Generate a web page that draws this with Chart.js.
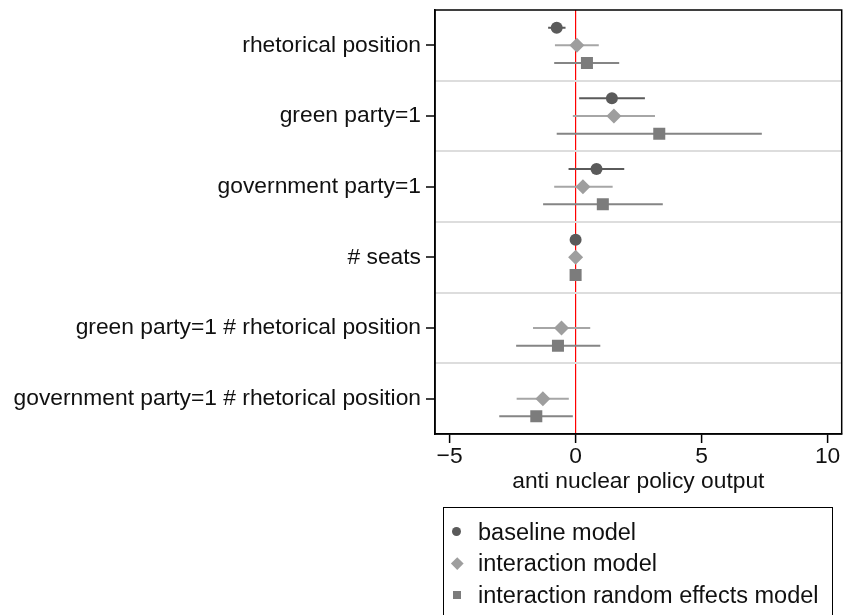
<!DOCTYPE html>
<html>
<head>
<meta charset="utf-8">
<script src="https://cdn.jsdelivr.net/npm/chart.js@4.4.1/dist/chart.umd.min.js"></script>
<style>
  body { margin: 0; background: #fff; font-family: "Liberation Sans", Arial, Helvetica, sans-serif; }
  #wrap { position: relative; width: 843px; height: 615px; overflow: hidden; }
  #legend { position: absolute; left: 443px; top: 507px; width: 390px; height: 120px;
            border: 1px solid #000; box-sizing: border-box; }
  .item { position: absolute; left: 0; height: 32px; line-height: 32px; font-size: 23.5px;
          color: #111; white-space: nowrap; }
  .item span.txt { position: absolute; left: 34px; top: 0; }
  .mk { position: absolute; }
</style>
</head>
<body>
<div id="wrap">
  <canvas id="chart" width="843" height="615"></canvas>
  <div id="legend"></div>
</div>
<script>
// categories (top to bottom)
const categories = [
  'rhetorical position',
  'green party=1',
  'government party=1',
  '# seats',
  'green party=1 # rhetorical position',
  'government party=1 # rhetorical position'
];

// baseline model
const baselineEst = [-0.75, 1.44, 0.83, 0.0, null, null];
const baselineLo  = [-1.09, 0.14, -0.28, -0.02, null, null];
const baselineHi  = [-0.40, 2.75, 1.93, 0.02, null, null];

// interaction model
const interactionEst = [0.05, 1.52, 0.29, 0.0, -0.56, -1.30];
const interactionLo  = [-0.82, -0.11, -0.85, -0.02, -1.69, -2.34];
const interactionHi  = [0.92, 3.15, 1.47, 0.02, 0.58, -0.27];

// interaction random effects model
const randomEst = [0.45, 3.32, 1.08, 0.0, -0.70, -1.56];
const randomLo  = [-0.85, -0.75, -1.29, -0.02, -2.36, -3.03];
const randomHi  = [1.73, 7.39, 3.46, 0.02, 0.98, -0.11];

const xTicks = [-5, 0, 5, 10];
const xTitle = 'anti nuclear policy output';

const series = [
  { label: 'baseline model', est: baselineEst, lo: baselineLo, hi: baselineHi,
    shift: -0.25, style: 'circle', radius: 6, color: '#5a5a5a', ciColor: '#5a5a5a' },
  { label: 'interaction model', est: interactionEst, lo: interactionLo, hi: interactionHi,
    shift: 0, style: 'rectRot', radius: 7.5, color: '#9e9e9e', ciColor: '#a6a6a6' },
  { label: 'interaction random effects model', est: randomEst, lo: randomLo, hi: randomHi,
    shift: 0.25, style: 'rect', radius: 8.5, color: '#7c7c7c', ciColor: '#858585' }
];

const datasets = [];
series.forEach(s => {
  const pts = [];
  s.est.forEach((v, i) => {
    if (v === null) return;
    pts.push({ x: v, y: i + s.shift });
  });
  datasets.push({
    label: s.label,
    data: pts,
    pointStyle: s.style,
    pointRadius: s.radius,
    pointHoverRadius: s.radius,
    pointBackgroundColor: s.color,
    pointBorderWidth: 0,
    borderColor: s.color,
    order: 0
  });
  s.est.forEach((v, i) => {
    if (v === null) return;
    datasets.push({
      label: '_ci',
      data: [{ x: s.lo[i], y: i + s.shift }, { x: s.hi[i], y: i + s.shift }],
      showLine: true,
      pointRadius: 0,
      borderColor: s.ciColor,
      borderWidth: 2,
      order: 1
    });
  });
});

// frame around the plot region
const framePlugin = {
  id: 'frame',
  afterDraw(chart) {
    const { ctx, chartArea: a } = chart;
    ctx.save();
    ctx.strokeStyle = '#000';
    ctx.lineWidth = 1.5;
    ctx.strokeRect(a.left, a.top, a.right - a.left, a.bottom - a.top);
    ctx.restore();
  }
};

const clear = 'rgba(0,0,0,0)';
Chart.defaults.font.family = '"Liberation Sans", Arial, Helvetica, sans-serif';
Chart.defaults.color = '#111';

new Chart(document.getElementById('chart'), {
  type: 'scatter',
  data: { datasets },
  options: {
    responsive: false,
    animation: false,
    devicePixelRatio: 1,
    layout: { autoPadding: false, padding: { left: 0, top: 10, right: 1.3, bottom: 111 } },
    plugins: { legend: { display: false }, tooltip: { enabled: false } },
    scales: {
      x: {
        type: 'linear',
        min: -5.58,
        max: 10.56,
        afterBuildTicks: sc => { sc.ticks = xTicks.map(v => ({ value: v })); },
        afterFit: sc => { sc.height = 70; sc.paddingLeft = 0; sc.paddingRight = 0; },
        ticks: {
          font: { size: 22.8 },
          color: '#111',
          padding: 0,
          callback: v => String(v).replace('-', '\u2212')
        },
        grid: {
          color: ctx => (ctx.tick && ctx.tick.value === 0) ? '#ff0000' : clear,
          lineWidth: 1.2,
          tickColor: '#000',
          tickLength: 9,
          tickWidth: 1.5
        },
        border: { display: true, color: '#000', width: 1.5 },
        title: {
          display: true,
          text: xTitle,
          font: { size: 22.8 },
          color: '#111',
          padding: { top: 0, bottom: 9 }
        }
      },
      y: {
        type: 'linear',
        min: -0.5,
        max: categories.length - 0.5,
        reverse: true,
        afterBuildTicks: sc => {
          const t = [];
          for (let v = -0.5; v <= categories.length - 0.5; v += 0.5) t.push({ value: v });
          sc.ticks = t;
        },
        afterFit: sc => { sc.width = 435; sc.paddingTop = 0; sc.paddingBottom = 0; },
        ticks: {
          autoSkip: false,
          font: { size: 22.8 },
          color: '#111',
          padding: 5,
          callback: v => Number.isInteger(v) ? categories[v] : ''
        },
        grid: {
          color: ctx => {
            const v = ctx.tick ? ctx.tick.value : 0;
            return (!Number.isInteger(v) && v > -0.5 && v < categories.length - 0.5) ? '#dddddd' : clear;
          },
          lineWidth: 2,
          tickColor: ctx => (ctx.tick && Number.isInteger(ctx.tick.value)) ? '#000' : clear,
          tickLength: 9,
          tickWidth: 1.5
        },
        border: { display: true, color: '#000', width: 1.5 }
      }
    }
  },
  plugins: [framePlugin]
});

// legend box below the plot
const legend = document.getElementById('legend');
series.forEach((s, k) => {
  const row = document.createElement('div');
  row.className = 'item';
  row.style.top = (7.5 + k * 31.7) + 'px';
  const mk = document.createElement('div');
  mk.className = 'mk';
  if (s.style === 'circle') {
    Object.assign(mk.style, { left: '8px', top: '11.5px', width: '9px', height: '9px', borderRadius: '50%' });
  } else if (s.style === 'rectRot') {
    Object.assign(mk.style, { left: '8.5px', top: '12px', width: '8.5px', height: '8.5px', transform: 'rotate(45deg)' });
  } else {
    Object.assign(mk.style, { left: '9px', top: '12px', width: '8px', height: '8px' });
  }
  mk.style.background = s.color;
  const txt = document.createElement('span');
  txt.className = 'txt';
  txt.textContent = s.label;
  row.appendChild(mk);
  row.appendChild(txt);
  legend.appendChild(row);
});
</script>
</body>
</html>
